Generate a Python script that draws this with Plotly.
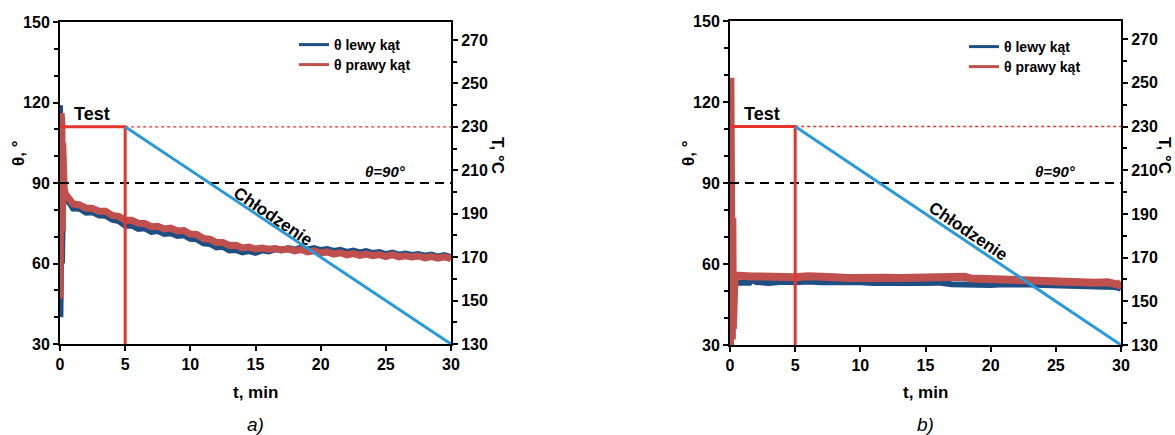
import plotly.graph_objects as go

# ---------------- data: panel a) ----------------
t_a = [0, 0.03, 0.06, 0.09, 0.12, 0.15, 0.18, 0.21, 0.24, 0.28, 0.32, 0.4, 0.5, 0.75,
       1, 1.5, 2, 2.5, 3, 3.5, 4, 4.5, 5, 5.5, 6, 6.5, 7, 7.5, 8, 8.5, 9, 9.5,
       10, 10.5, 11, 11.5, 12, 12.5, 13, 13.5, 14, 14.5, 15, 15.5, 16, 16.5, 17, 17.5,
       18, 18.5, 19, 19.5, 20, 20.5, 21, 21.5, 22, 22.5, 23, 23.5, 24, 24.5, 25, 25.5,
       26, 26.5, 27, 27.5, 28, 28.5, 29, 29.5, 30]
lewy_a = [119, 40, 58, 48, 75, 60, 85, 80, 86, 84, 85, 84, 83.5, 82.4,
          80.5, 80.4, 78.9, 79.1, 77.9, 77.8, 76.3, 75.8, 74.1, 74.2, 72.9, 73.1, 71.8, 72.1, 71.0, 71.3, 70.3, 70.5,
          69.2, 69.0, 67.5, 67.3, 66.0, 66.2, 64.9, 65.0, 64.1, 64.6, 64.0, 64.9, 64.5, 65.3, 64.9, 65.7,
          65.2, 65.9, 65.2, 65.7, 65.0, 65.4, 64.7, 65.1, 64.3, 64.8, 64.1, 64.6, 63.9, 64.3, 63.5, 64.1,
          63.3, 63.7, 63.2, 63.5, 62.9, 63.3, 62.6, 63.1, 62.4]
prawy_a = [47, 95, 50, 116, 62, 112, 72, 105, 80, 95, 88, 86, 85, 83.8,
           82.2, 81.8, 80.7, 80.5, 79.5, 79.5, 77.9, 77.6, 76.1, 76.1, 75.0, 74.9, 73.7, 73.9, 72.9, 73.2, 72.1, 72.3,
           71.0, 70.8, 69.3, 69.1, 67.8, 67.8, 66.7, 66.8, 65.8, 66.1, 65.4, 65.8, 65.3, 65.6, 65.1, 65.4,
           64.7, 65.2, 64.3, 64.7, 63.9, 64.3, 63.5, 64.0, 63.2, 63.7, 63.0, 63.5, 62.9, 63.3, 62.6, 63.3,
           62.5, 62.9, 62.4, 62.8, 62.1, 62.6, 62.0, 62.5, 61.8]

# ---------------- data: panel b) ----------------
t_b = [0, 0.03, 0.06, 0.1, 0.14, 0.18, 0.22, 0.26, 0.3, 0.35, 0.4, 1, 1.5, 1.7, 2,
       3, 4, 5, 6, 7, 8, 9, 10, 11, 12, 13, 14, 15, 16, 17, 18, 18.5, 19, 20,
       21, 22, 23, 24, 25, 26, 27, 28, 29, 29.5, 29.8, 30]
lewy_b = [32, 97, 76, 90, 70, 60, 50, 53, 53.2, 53.1, 53.1, 53.3, 53.1, 54.2, 53.3,
          53.0, 53.4, 53.2, 53.5, 53.2, 53.3, 53.1, 53.2, 53.0, 53.2, 52.9, 53.1, 53.0, 53.1, 52.5, 52.3, 52.1, 52.3, 52.2,
          52.5, 52.2, 52.4, 52.2, 52.1, 51.8, 52.1, 51.7, 51.8, 51.5, 51.2, 50.8]
prawy_b = [30, 129, 34, 78, 32, 77, 36, 70, 56, 55.6, 55.7, 55.3, 55.6, 55.4, 55.4,
           55.2, 55.4, 55.1, 55.5, 55.0, 55.1, 54.8, 55.0, 54.7, 54.9, 54.8, 55.0, 54.9, 55.2, 55.0, 55.3, 54.6, 54.5, 54.2,
           54.3, 54.0, 54.0, 53.6, 53.7, 53.3, 53.4, 53.1, 53.2, 53.0, 52.3, 53.3]

# temperature programme (right axis, °C)
test_t = [0, 5, 5]
test_T = [230, 230, 130]
cool_t = [5, 30]
cool_T = [230, 130]
hold_t = [5, 30]
hold_T = [230, 230]
ref_t = [0, 30]
ref_theta = [90, 90]

theta_ticks = [30, 60, 90, 120, 150]
T_ticks = [130, 150, 170, 190, 210, 230, 250, 270]
t_ticks = [0, 5, 10, 15, 20, 25, 30]

FONT = "Liberation Sans, Arial, sans-serif"
C_LEWY = "#1f4e82"
C_PRAWY = "#c0504d"
C_TEST = "#e8322c"
C_COOL = "#2a9ad6"
W, H = 1175, 435

fig = go.Figure()

panels = [
    dict(t=t_a, lewy=lewy_a, prawy=prawy_a, xa="x", ya="y", yb="y2", lg=("legend", "legend2"), wb=6, wr=7),
    dict(t=t_b, lewy=lewy_b, prawy=prawy_b, xa="x2", ya="y3", yb="y4", lg=("legend3", "legend4"), wb=6, wr=8),
]
for p in panels:
    fig.add_trace(go.Scatter(x=p["t"], y=p["lewy"], mode="lines", xaxis=p["xa"], yaxis=p["ya"],
                             line=dict(color=C_LEWY, width=p["wb"]), showlegend=False, hoverinfo="skip"))
    fig.add_trace(go.Scatter(x=p["t"], y=p["prawy"], mode="lines", xaxis=p["xa"], yaxis=p["ya"],
                             line=dict(color=C_PRAWY, width=p["wr"]), showlegend=False, hoverinfo="skip"))
    fig.add_trace(go.Scatter(x=ref_t, y=ref_theta, mode="lines", xaxis=p["xa"], yaxis=p["ya"],
                             line=dict(color="black", width=2, dash="9px,6px"), showlegend=False))
    # legend entries
    fig.add_trace(go.Scatter(x=[None], y=[None], mode="lines", xaxis=p["xa"], yaxis=p["ya"],
                             line=dict(color=C_LEWY, width=3), name="θ lewy kąt", legend=p["lg"][0]))
    fig.add_trace(go.Scatter(x=[None], y=[None], mode="lines", xaxis=p["xa"], yaxis=p["ya"],
                             line=dict(color=C_PRAWY, width=3), name="θ prawy kąt", legend=p["lg"][1]))
    # temperature programme
    fig.add_trace(go.Scatter(x=hold_t, y=hold_T, mode="lines", xaxis=p["xa"], yaxis=p["yb"],
                             line=dict(color=C_TEST, width=1.3, dash="dot"), showlegend=False))
    fig.add_trace(go.Scatter(x=test_t, y=test_T, mode="lines", xaxis=p["xa"], yaxis=p["yb"],
                             line=dict(color=C_TEST, width=3), showlegend=False))
    fig.add_trace(go.Scatter(x=cool_t, y=cool_T, mode="lines", xaxis=p["xa"], yaxis=p["yb"],
                             line=dict(color=C_COOL, width=3), showlegend=False))

tickfont = dict(family=FONT, size=16, color="black", weight="bold")

def xax(domain, anchor):
    return dict(domain=domain, anchor=anchor, range=[0, 30], tickvals=t_ticks, ticks="outside",
                ticklen=5, tickwidth=2, tickcolor="black", showline=True, linewidth=2, linecolor="black",
                mirror=True, showgrid=False, zeroline=False, tickfont=tickfont, automargin=False)

def yleft(domain, anchor):
    return dict(domain=domain, anchor=anchor, range=[30, 150], tickvals=theta_ticks, ticks="outside",
                ticklen=5, tickwidth=2, tickcolor="black", showline=True, linewidth=2, linecolor="black",
                showgrid=False, zeroline=False, tickfont=tickfont, automargin=False,
                minor=dict(dtick=10, tick0=30, ticks="outside", ticklen=4, tickwidth=2, tickcolor="black"))

def yright(overlay, anchor):
    return dict(overlaying=overlay, anchor=anchor, side="right", range=[130, 278.3], tickvals=T_ticks,
                ticks="outside", ticklen=5, tickwidth=2, tickcolor="black", showline=True, linewidth=2,
                linecolor="black", showgrid=False, zeroline=False, tickfont=tickfont, automargin=False,
                minor=dict(dtick=10, tick0=130, ticks="outside", ticklen=4, tickwidth=2, tickcolor="black"))

xd_a = [60 / W, 451 / W]
xd_b = [730 / W, 1121 / W]
yd_a = [(H - 344) / H, (H - 22) / H]
yd_b = [(H - 345) / H, (H - 21) / H]

legfont = dict(family=FONT, size=14, color="black", weight="bold")

def leg(xp, yp):
    return dict(x=xp / W, y=1 - yp / H, xanchor="left", yanchor="middle", font=legfont,
                bgcolor="rgba(0,0,0,0)", borderwidth=0)

fig.update_layout(
    width=W, height=H, margin=dict(l=0, r=0, t=0, b=0, autoexpand=False),
    paper_bgcolor="white", plot_bgcolor="white",
    xaxis=xax(xd_a, "y"), yaxis=yleft(yd_a, "x"), yaxis2=yright("y", "x"),
    xaxis2=xax(xd_b, "y3"), yaxis3=yleft(yd_b, "x2"), yaxis4=yright("y3", "x2"),
    legend=leg(294, 45), legend2=leg(294, 65),
    legend3=leg(964, 47), legend4=leg(964, 67),
)

ann = []
bold = lambda s: dict(family=FONT, size=s, color="black", weight="bold")
C = dict(xanchor="center", yanchor="middle", showarrow=False)
for xa, ya, chl in [("x", "y", (16.35, 77.7)), ("x2", "y3", (18.3, 72.2))]:
    ann.append(dict(x=2.45, y=115.7, xref=xa, yref=ya, text="Test", font=bold(18), **C))
    ann.append(dict(x=chl[0], y=chl[1], xref=xa, yref=ya, text="Chłodzenie",
                    textangle=34, font=bold(17), **C))
    ann.append(dict(x=25.0, y=94.2, xref=xa, yref=ya, text="<i>θ=90°</i>", font=bold(15), **C))

for cx, lab in [(255.5, "a)"), (925.5, "b)")]:
    ann.append(dict(x=cx / W, y=1 - 392 / H, xref="paper", yref="paper", text="t, min",
                    font=bold(17), **C))
    ann.append(dict(x=cx / W, y=1 - 424 / H, xref="paper", yref="paper", text="<i>" + lab + "</i>",
                    font=dict(family=FONT, size=19, color="black"), **C))

for xl, xr in [(18, 498), (688, 1165)]:
    ann.append(dict(x=xl / W, y=1 - 153 / H, xref="paper", yref="paper", text="θ, °", textangle=-90,
                    font=bold(17), **C))
    ann.append(dict(x=xr / W, y=1 - 155 / H, xref="paper", yref="paper", text="T, °C", textangle=90,
                    font=bold(17), **C))

fig.update_layout(annotations=ann)
fig.write_html("out.html", config={"displayModeBar": False},
               post_script="document.body.style.margin='0';document.body.style.overflow='hidden';")
